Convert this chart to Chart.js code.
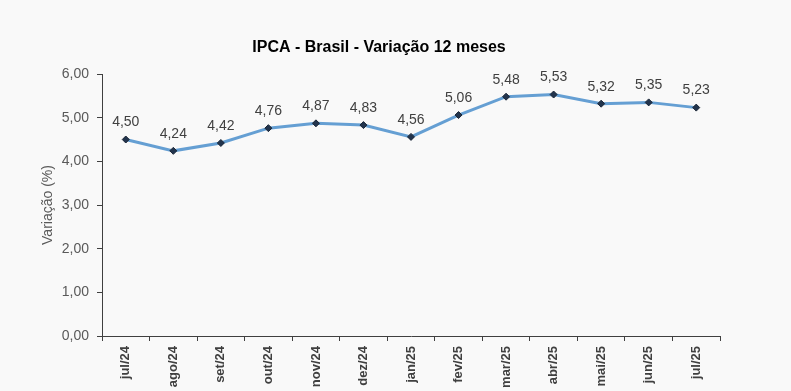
<!DOCTYPE html>
<html>
<head>
<meta charset="utf-8">
<script src="https://cdn.jsdelivr.net/npm/chart.js@4"></script>
<style>
  html, body { margin: 0; padding: 0; background: #f9f9f9; }
  #wrap { width: 791px; height: 391px; position: relative; }
</style>
</head>
<body>
<div id="wrap"><canvas id="c" width="791" height="391"></canvas></div>
<script>
const categories = ["jul/24","ago/24","set/24","out/24","nov/24","dez/24","jan/25","fev/25","mar/25","abr/25","mai/25","jun/25","jul/25"];
const ipca12m = [4.50, 4.24, 4.42, 4.76, 4.87, 4.83, 4.56, 5.06, 5.48, 5.53, 5.32, 5.35, 5.23];
const yTicks = [0, 1, 2, 3, 4, 5, 6];
const chartTitle = "IPCA - Brasil - Variação 12 meses";
const yTitle = "Variação (%)";

const fmt = v => v.toFixed(2).replace('.', ',');
const FONT = "'Liberation Sans', Arial, sans-serif";

const labelPlugin = {
  id: 'pointLabels',
  afterDatasetsDraw(chart) {
    const ctx = chart.ctx;
    const meta = chart.getDatasetMeta(0);
    ctx.save();
    ctx.font = "14px " + FONT;
    ctx.fillStyle = "#404040";
    ctx.textAlign = "center";
    ctx.textBaseline = "middle";
    meta.data.forEach((pt, i) => {
      ctx.fillText(fmt(ipca12m[i]), pt.x, pt.y - 17);
    });
    ctx.restore();
  }
};

new Chart(document.getElementById('c'), {
  type: 'line',
  data: {
    labels: categories,
    datasets: [{
      data: ipca12m,
      borderColor: '#659fd3',
      borderWidth: 3,
      tension: 0,
      pointStyle: 'rectRot',
      pointRadius: 3.5,
      pointBackgroundColor: '#22344d',
      pointBorderColor: '#1b2636',
      pointBorderWidth: 1
    }]
  },
  options: {
    responsive: false,
    animation: false,
    layout: { padding: { left: 38, right: 71, top: 38, bottom: 0 } },
    plugins: {
      legend: { display: false },
      tooltip: { enabled: false },
      title: {
        display: true,
        text: chartTitle,
        color: '#000',
        font: { family: FONT, size: 16, weight: 'bold' },
        padding: { top: 0, bottom: 16.8 }
      }
    },
    scales: {
      x: {
        offset: true,
        grid: { display: true, drawOnChartArea: false, drawTicks: true, tickLength: 5, color: '#404040', offset: true },
        border: { display: true, color: '#404040', width: 1 },
        ticks: {
          autoSkip: false,
          maxRotation: 90, minRotation: 90,
          color: '#404040',
          padding: 5,
          font: { family: FONT, size: 13, weight: 'bold' }
        },
        afterFit(scale) { scale.height = 55; }
      },
      y: {
        min: 0, max: 6,
        afterBuildTicks(scale) { scale.ticks = yTicks.map(v => ({ value: v })); },
        grid: { display: true, drawOnChartArea: false, drawTicks: true, tickLength: 5, color: '#404040' },
        border: { display: true, color: '#404040', width: 1 },
        ticks: {
          color: '#595959',
          padding: 8,
          font: { family: FONT, size: 14 },
          callback: v => fmt(v)
        },
        title: {
          display: true,
          text: yTitle,
          color: '#595959',
          font: { family: FONT, size: 14 },
          padding: { top: 1.5, bottom: 0 }
        },
        afterFit(scale) { scale.width = 64; }
      }
    }
  },
  plugins: [labelPlugin]
});
</script>
</body>
</html>
